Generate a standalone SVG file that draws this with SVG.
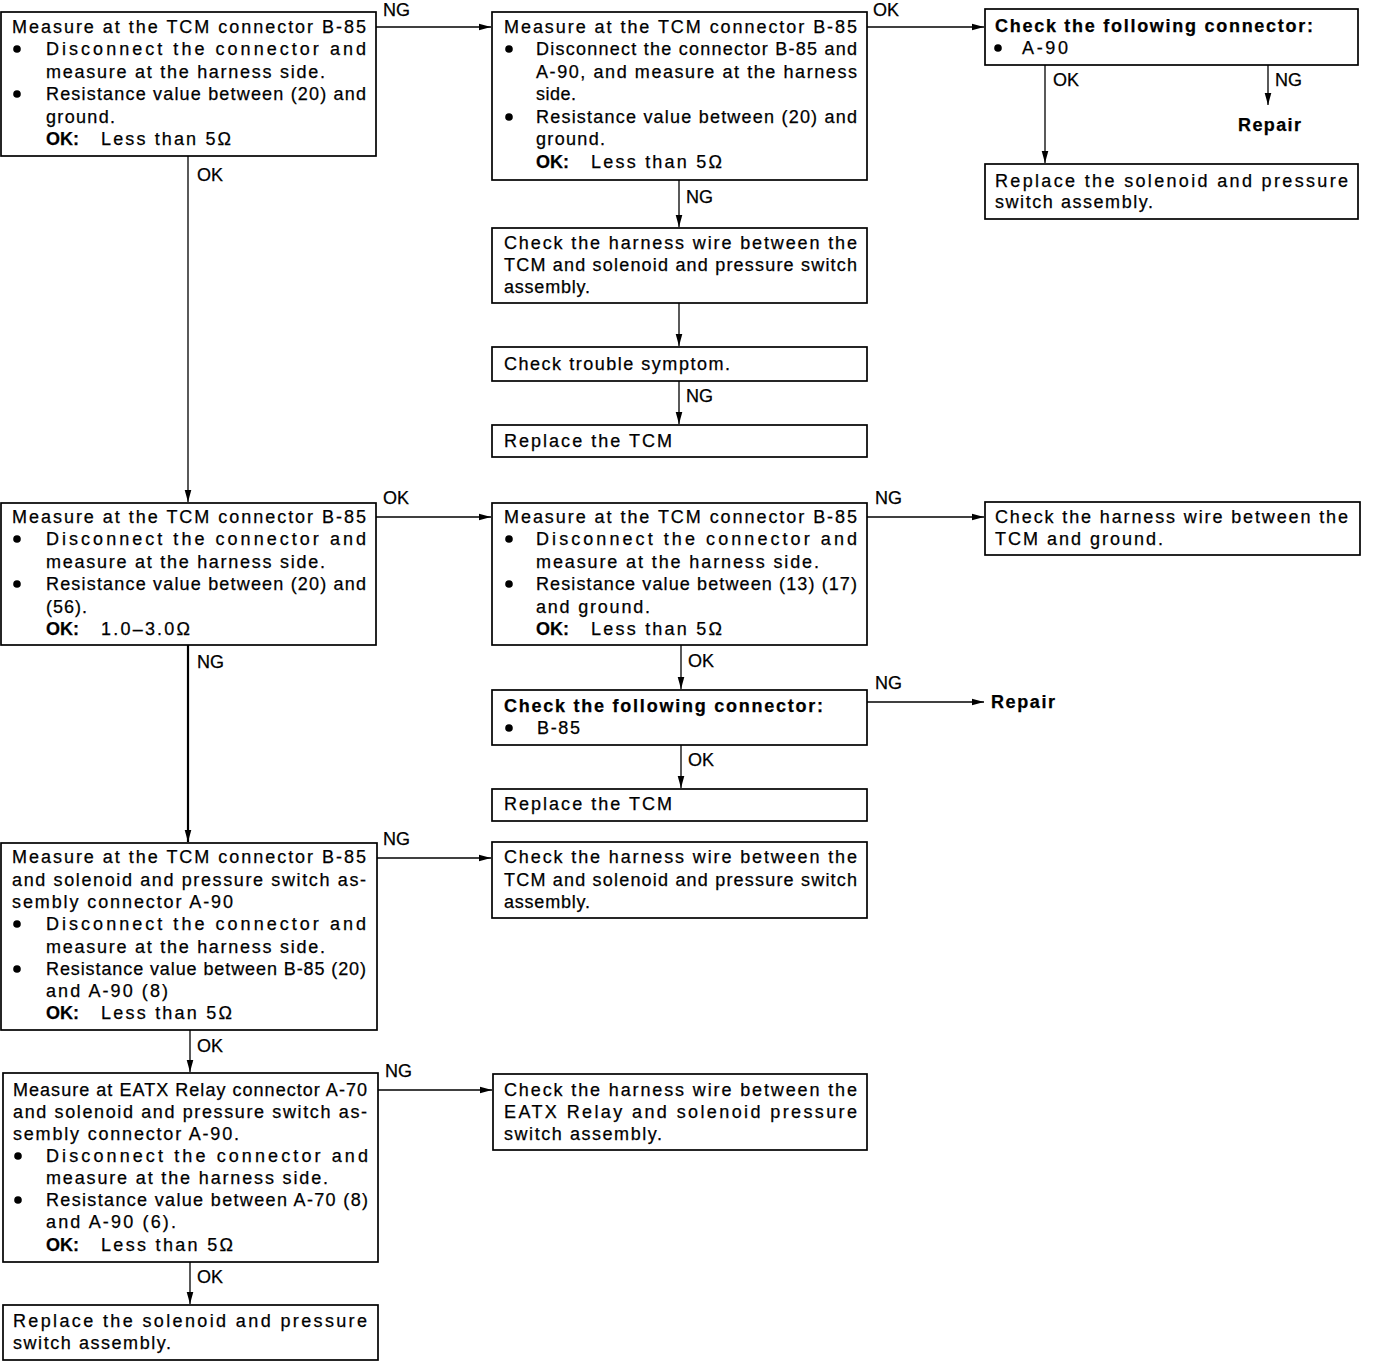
<svg xmlns="http://www.w3.org/2000/svg" width="1376" height="1362" viewBox="0 0 1376 1362">
<style>
text{font-family:"Liberation Sans",Arial,Helvetica,sans-serif;font-size:18px;fill:#000;stroke:#000;stroke-width:0.25}
.b{font-weight:bold}
.box{fill:#fff;stroke:#000;stroke-width:1.7}
.ln{fill:none;stroke:#000;stroke-width:1.3}
.thick{stroke-width:2.2}
.dot{fill:#000}
</style>
<defs>
<marker id="ah" markerUnits="userSpaceOnUse" markerWidth="13" markerHeight="9" refX="12" refY="4.5" orient="auto">
<path d="M0,1.2 L12,4.5 L0,7.8 Z" fill="#000"/>
</marker>
</defs>
<rect width="1376" height="1362" fill="#fff"/>

<g id="connectors">
<path class="ln" d="M376,27 H491" marker-end="url(#ah)"/>
<text x="383" y="16">NG</text>
<path class="ln" d="M867,27 H984" marker-end="url(#ah)"/>
<text x="873" y="16">OK</text>
<path class="ln" d="M1045,65 V163" marker-end="url(#ah)"/>
<text x="1053" y="86">OK</text>
<path class="ln" d="M1268,65 V105" marker-end="url(#ah)"/>
<text x="1275" y="86">NG</text>
<text class="b" x="1238" y="131" textLength="63">Repair</text>
<path class="ln" d="M679,180 V227" marker-end="url(#ah)"/>
<text x="686" y="203">NG</text>
<path class="ln" d="M679,303 V346" marker-end="url(#ah)"/>
<path class="ln" d="M679,381 V424" marker-end="url(#ah)"/>
<text x="686" y="402">NG</text>
<path class="ln" d="M188,156 V502" marker-end="url(#ah)"/>
<text x="197" y="181">OK</text>
<path class="ln" d="M376,517 H491" marker-end="url(#ah)"/>
<text x="383" y="504">OK</text>
<path class="ln" d="M867,517 H984" marker-end="url(#ah)"/>
<text x="875" y="504">NG</text>
<path class="ln" d="M681,645 V689" marker-end="url(#ah)"/>
<text x="688" y="667">OK</text>
<path class="ln" d="M867,702 H984" marker-end="url(#ah)"/>
<text x="875" y="689">NG</text>
<text class="b" x="991" y="708" textLength="64">Repair</text>
<path class="ln" d="M681,745 V788" marker-end="url(#ah)"/>
<text x="688" y="766">OK</text>
<path class="ln thick" d="M188,645 V842" marker-end="url(#ah)"/>
<text x="197" y="668">NG</text>
<path class="ln" d="M377,858 H491" marker-end="url(#ah)"/>
<text x="383" y="845">NG</text>
<path class="ln" d="M190,1030 V1072" marker-end="url(#ah)"/>
<text x="197" y="1052">OK</text>
<path class="ln" d="M378,1090 H492" marker-end="url(#ah)"/>
<text x="385" y="1077">NG</text>
<path class="ln" d="M190,1262 V1304" marker-end="url(#ah)"/>
<text x="197" y="1283">OK</text>
</g>

<g id="n1">
<rect class="box" x="1" y="12" width="375" height="144"/>
<text x="12" y="33" textLength="354">Measure at the TCM connector B-85</text>
<circle class="dot" cx="17" cy="49" r="3.8"/>
<text x="46" y="55" textLength="320">Disconnect the connector and</text>
<text x="46" y="78" textLength="279">measure at the harness side.</text>
<circle class="dot" cx="17" cy="94" r="3.8"/>
<text x="46" y="100" textLength="320">Resistance value between (20) and</text>
<text x="46" y="123" textLength="69">ground.</text>
<text class="b" x="46" y="145">OK:</text>
<text x="101" y="145" textLength="130">Less than 5Ω</text>
</g>

<g id="n2">
<rect class="box" x="492" y="12" width="375" height="168"/>
<text x="504" y="33" textLength="353">Measure at the TCM connector B-85</text>
<circle class="dot" cx="509" cy="49" r="3.8"/>
<text x="536" y="55" textLength="321">Disconnect the connector B-85 and</text>
<text x="536" y="78" textLength="321">A-90, and measure at the harness</text>
<text x="536" y="100" textLength="40">side.</text>
<circle class="dot" cx="509" cy="117" r="3.8"/>
<text x="536" y="123" textLength="321">Resistance value between (20) and</text>
<text x="536" y="145" textLength="69">ground.</text>
<text class="b" x="536" y="168">OK:</text>
<text x="591" y="168" textLength="131">Less than 5Ω</text>
</g>

<g id="n3">
<rect class="box" x="985" y="9" width="373" height="56"/>
<text class="b" x="995" y="32" textLength="318">Check the following connector:</text>
<circle class="dot" cx="998" cy="48" r="3.8"/>
<text x="1022" y="54" textLength="46">A-90</text>
</g>

<g id="n4">
<rect class="box" x="985" y="164" width="373" height="55"/>
<text x="995" y="187" textLength="353">Replace the solenoid and pressure</text>
<text x="995" y="208" textLength="158">switch assembly.</text>
</g>

<g id="n5">
<rect class="box" x="492" y="228" width="375" height="75"/>
<text x="504" y="249" textLength="353">Check the harness wire between the</text>
<text x="504" y="271" textLength="353">TCM and solenoid and pressure switch</text>
<text x="504" y="293" textLength="86">assembly.</text>
</g>

<g id="n6">
<rect class="box" x="492" y="347" width="375" height="34"/>
<text x="504" y="370" textLength="226">Check trouble symptom.</text>
</g>

<g id="n7">
<rect class="box" x="492" y="425" width="375" height="32"/>
<text x="504" y="447" textLength="168">Replace the TCM</text>
</g>

<g id="n8">
<rect class="box" x="1" y="503" width="375" height="142"/>
<text x="12" y="523" textLength="354">Measure at the TCM connector B-85</text>
<circle class="dot" cx="17" cy="539" r="3.8"/>
<text x="46" y="545" textLength="320">Disconnect the connector and</text>
<text x="46" y="568" textLength="279">measure at the harness side.</text>
<circle class="dot" cx="17" cy="584" r="3.8"/>
<text x="46" y="590" textLength="320">Resistance value between (20) and</text>
<text x="46" y="613" textLength="41">(56).</text>
<text class="b" x="46" y="635">OK:</text>
<text x="101" y="635" textLength="89">1.0–3.0Ω</text>
</g>

<g id="n9">
<rect class="box" x="492" y="503" width="375" height="142"/>
<text x="504" y="523" textLength="353">Measure at the TCM connector B-85</text>
<circle class="dot" cx="509" cy="539" r="3.8"/>
<text x="536" y="545" textLength="321">Disconnect the connector and</text>
<text x="536" y="568" textLength="283">measure at the harness side.</text>
<circle class="dot" cx="509" cy="584" r="3.8"/>
<text x="536" y="590" textLength="321">Resistance value between (13) (17)</text>
<text x="536" y="613" textLength="114">and ground.</text>
<text class="b" x="536" y="635">OK:</text>
<text x="591" y="635" textLength="131">Less than 5Ω</text>
</g>

<g id="n10">
<rect class="box" x="985" y="502" width="375" height="53"/>
<text x="995" y="523" textLength="353">Check the harness wire between the</text>
<text x="995" y="545" textLength="168">TCM and ground.</text>
</g>

<g id="n11">
<rect class="box" x="492" y="690" width="375" height="55"/>
<text class="b" x="504" y="712" textLength="319">Check the following connector:</text>
<circle class="dot" cx="509" cy="728" r="3.8"/>
<text x="537" y="734" textLength="43">B-85</text>
</g>

<g id="n12">
<rect class="box" x="492" y="789" width="375" height="32"/>
<text x="504" y="810" textLength="168">Replace the TCM</text>
</g>

<g id="n13">
<rect class="box" x="1" y="843" width="376" height="187"/>
<text x="12" y="863" textLength="354">Measure at the TCM connector B-85</text>
<text x="12" y="886" textLength="354">and solenoid and pressure switch as-</text>
<text x="12" y="908" textLength="221">sembly connector A-90</text>
<circle class="dot" cx="17" cy="924" r="3.8"/>
<text x="46" y="930" textLength="320">Disconnect the connector and</text>
<text x="46" y="953" textLength="279">measure at the harness side.</text>
<circle class="dot" cx="17" cy="969" r="3.8"/>
<text x="46" y="975" textLength="320">Resistance value between B-85 (20)</text>
<text x="46" y="997" textLength="122">and A-90 (8)</text>
<text class="b" x="46" y="1019">OK:</text>
<text x="101" y="1019" textLength="131">Less than 5Ω</text>
</g>

<g id="n14">
<rect class="box" x="492" y="842" width="375" height="76"/>
<text x="504" y="863" textLength="353">Check the harness wire between the</text>
<text x="504" y="886" textLength="353">TCM and solenoid and pressure switch</text>
<text x="504" y="908" textLength="86">assembly.</text>
</g>

<g id="n15">
<rect class="box" x="3" y="1073" width="375" height="189"/>
<text x="13" y="1096" textLength="354">Measure at EATX Relay connector A-70</text>
<text x="13" y="1118" textLength="354">and solenoid and pressure switch as-</text>
<text x="13" y="1140" textLength="226">sembly connector A-90.</text>
<circle class="dot" cx="18" cy="1156" r="3.8"/>
<text x="46" y="1162" textLength="322">Disconnect the connector and</text>
<text x="46" y="1184" textLength="282">measure at the harness side.</text>
<circle class="dot" cx="18" cy="1200" r="3.8"/>
<text x="46" y="1206" textLength="322">Resistance value between A-70 (8)</text>
<text x="46" y="1228" textLength="130">and A-90 (6).</text>
<text class="b" x="46" y="1251">OK:</text>
<text x="101" y="1251" textLength="132">Less than 5Ω</text>
</g>

<g id="n16">
<rect class="box" x="493" y="1074" width="374" height="76"/>
<text x="504" y="1096" textLength="353">Check the harness wire between the</text>
<text x="504" y="1118" textLength="353">EATX Relay and solenoid pressure</text>
<text x="504" y="1140" textLength="158">switch assembly.</text>
</g>

<g id="n17">
<rect class="box" x="3" y="1305" width="375" height="55"/>
<text x="13" y="1327" textLength="354">Replace the solenoid and pressure</text>
<text x="13" y="1349" textLength="158">switch assembly.</text>
</g>
</svg>
